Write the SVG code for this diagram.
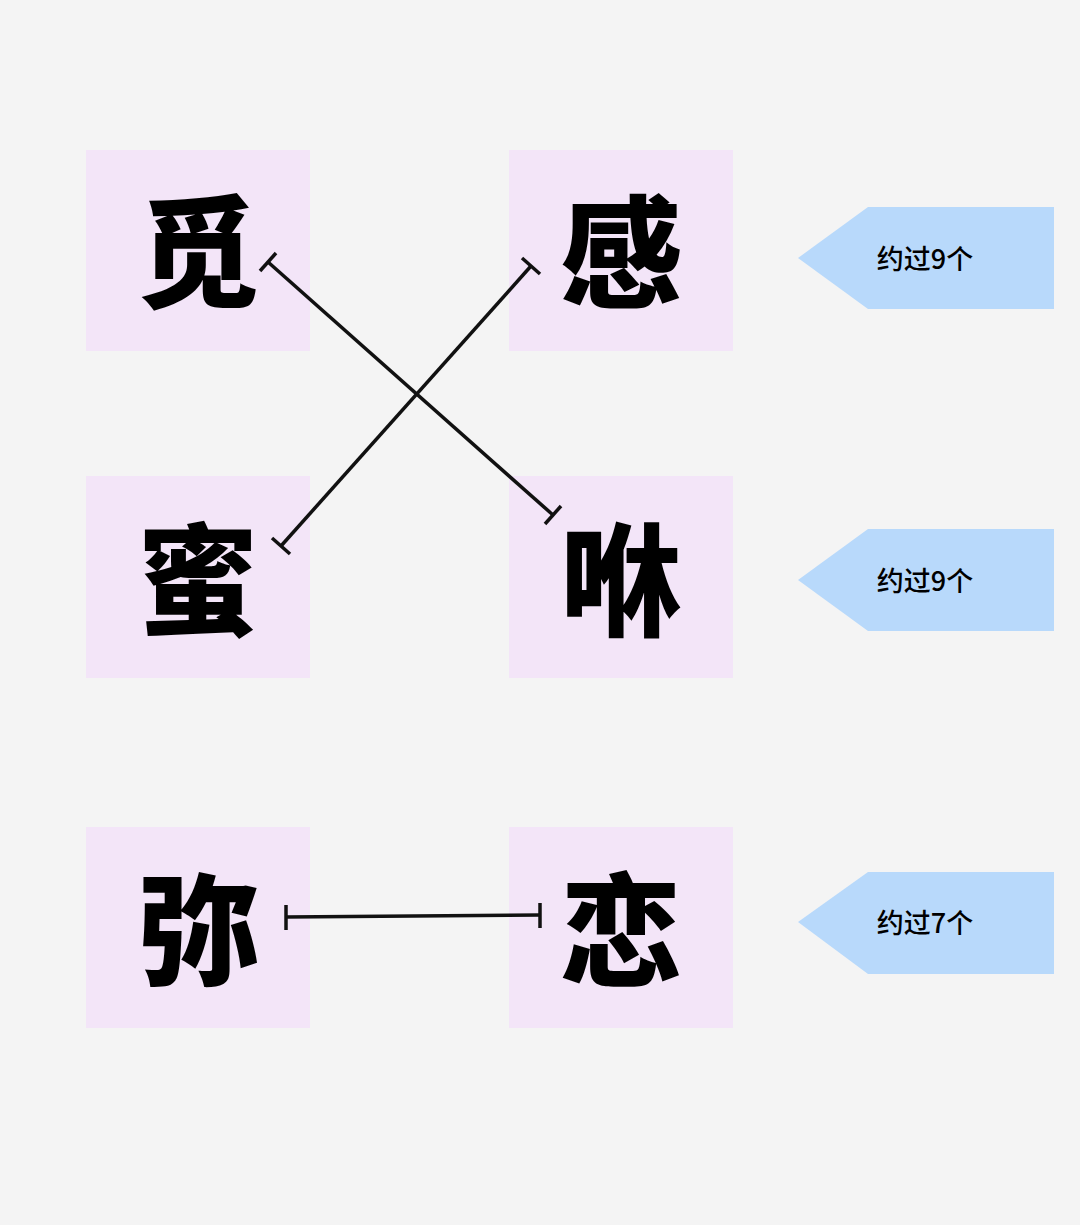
<svg xmlns="http://www.w3.org/2000/svg" width="1080" height="1225" viewBox="0 0 1080 1225">
<style>
.box{fill:#f3e5f8}
.ch{font-family:"Noto Sans CJK SC",sans-serif;font-weight:900;font-size:122px;fill:#000;text-anchor:middle}
.tag{fill:#b8d9fb}
.tt{font-family:"Noto Sans CJK SC",sans-serif;font-weight:500;font-size:27px;fill:#000;text-anchor:middle}
.ln{stroke:#111;stroke-width:3.5;fill:none}
</style>
<rect width="1080" height="1225" fill="#f4f4f4"/>
<g id="n1"><rect class="box" x="86" y="150" width="224" height="201"/><text class="ch" x="198" y="298">觅</text></g>
<g id="n2"><rect class="box" x="509" y="150" width="224" height="201"/><text class="ch" x="621" y="298">感</text></g>
<g id="n3"><rect class="box" x="86" y="476" width="224" height="202"/><text class="ch" x="198" y="626">蜜</text></g>
<g id="n4"><rect class="box" x="509" y="476" width="224" height="202"/><text class="ch" x="621" y="626">咻</text></g>
<g id="n5"><rect class="box" x="86" y="827" width="224" height="201"/><text class="ch" x="198" y="976">弥</text></g>
<g id="n6"><rect class="box" x="509" y="827" width="224" height="201"/><text class="ch" x="621" y="976">恋</text></g>
<g id="t1"><polygon class="tag" points="798,258 868,207 1054,207 1054,309 868,309"/><text class="tt" x="925" y="269">约过9个</text></g>
<g id="t2"><polygon class="tag" points="798,580 868,529 1054,529 1054,631 868,631"/><text class="tt" x="925" y="591">约过9个</text></g>
<g id="t3"><polygon class="tag" points="798,922 868,872 1054,872 1054,974 868,974"/><text class="tt" x="925" y="933">约过7个</text></g>
<g id="connectors">
<line class="ln" x1="268" y1="262" x2="553" y2="515"/>
<line class="ln" x1="260" y1="271" x2="276" y2="253"/>
<line class="ln" x1="545" y1="524" x2="561" y2="506"/>
<line class="ln" x1="531" y1="266" x2="281" y2="546"/>
<line class="ln" x1="522" y1="258" x2="540" y2="274"/>
<line class="ln" x1="272" y1="538" x2="290" y2="554"/>
<line class="ln" x1="286" y1="917" x2="540" y2="915"/>
<line class="ln" x1="286" y1="905" x2="286" y2="930"/>
<line class="ln" x1="540" y1="903" x2="540" y2="928"/>
</g>
</svg>
